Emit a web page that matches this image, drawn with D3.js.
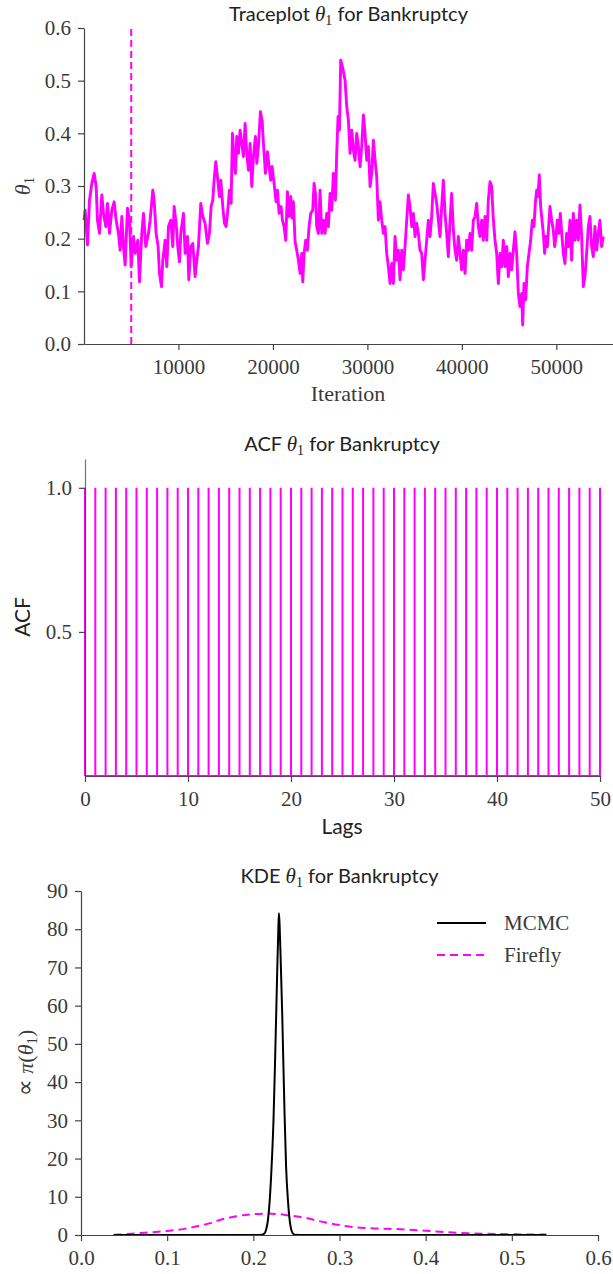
<!DOCTYPE html>
<html><head><meta charset="utf-8">
<script src="https://cdn.jsdelivr.net/npm/d3@7"></script>
<style>body{margin:0;background:#fff} svg{display:block}</style>
</head><body><svg id="c" width="613" height="1274"></svg>
<script>
// ---------- DATA ----------
const traceIter = [0,123,370,582,829,1076,1287,1428,1640,1887,2063,2310,2486,2698,2945,3192,3403,3650,3827,4003,4179,4356,4603,4814,4990,5238,5414,5696,5872,6119,6296,6542,6825,7001,7283,7424,7636,7847,7989,8200,8341,8588,8765,8941,9188,9399,9540,9752,9929,10105,10246,10528,10705,10951,11092,11304,11516,11762,11939,12115,12362,12574,12820,13067,13279,13455,13632,13773,13949,
14127,14339,14480,14692,14868,15044,15221,15397,15573,15714,15891,16032,16173,16349,16526,16702,16878,17055,17231,17407,17584,17760,17936,18148,18289,18465,18677,18853,18995,19206,19418,19594,19770,19912,20123,20335,20476,20652,20864,21005,21181,21358,21534,21710,21887,22028,22169,22345,22522,22698,22874,23051,23156,23297,23474,23650,23826,24003,24214,24356,24497,24638,24814,24990,25167,25343,25519,25696,25872,26049,26225,26401,26613,26754,26895,27036,27177,27353,
27636,27813,27989,28165,28342,28518,28694,28871,29047,29224,29400,29576,29753,29929,30105,30282,30458,30634,30811,30987,31163,31340,31516,31692,31869,32045,32221,32398,32574,32751,32927,33103,33280,33456,33632,33809,33985,34161,34338,34514,34690,34867,35043,35219,35396,35572,35748,35925,36101,36278,36454,36630,36807,36983,37159,37336,37512,37688,37865,38041,38217,38394,38570,38746,38923,39099,39275,39452,39628,39805,39981,40157,40334,40510,40686,40863,41039,41215,
41393,41570,41746,41922,42099,42275,42451,42628,42804,42980,43157,43333,43510,43686,43862,44039,44215,44391,44568,44744,44920,45097,45273,45449,45626,45802,45978,46155,46331,46437,46578,46754,46931,47107,47283,47460,47636,47777,47918,48059,48200,48342,48483,48624,48765,48906,49047,49188,49329,49505,49682,49823,49964,50105,50281,50422,50599,50740,50916,51093,51269,51445,51622,51798,51974,52151,52327,52503,52680,52856,53032,53209,53385,53562,53738,53914,54091,54267,54443,54620,54796,54972];
const traceTheta = [0.235,0.254,0.188,0.273,0.305,0.324,0.299,0.235,0.21,0.283,0.248,0.223,0.267,0.21,0.254,0.27,0.235,0.21,0.178,0.242,0.185,0.15,0.258,0.235,0.147,0.204,0.172,0.197,0.118,0.21,0.248,0.185,0.21,0.235,0.292,0.273,0.21,0.185,0.134,0.109,0.159,0.197,0.147,0.223,0.235,0.185,0.261,0.229,0.185,0.156,0.21,0.248,0.172,0.204,0.122,0.185,0.191,0.128,0.159,0.185,0.267,0.242,0.229,0.191,0.21,0.261,0.273,0.311,0.346,
0.318,0.28,0.311,0.261,0.229,0.223,0.254,0.292,0.267,0.4,0.349,0.324,0.394,0.362,0.406,0.381,0.356,0.419,0.362,0.33,0.381,0.299,0.356,0.394,0.343,0.375,0.441,0.425,0.381,0.324,0.365,0.337,0.311,0.337,0.305,0.27,0.292,0.248,0.261,0.235,0.223,0.197,0.289,0.242,0.28,0.239,0.27,0.194,0.178,0.159,0.134,0.172,0.118,0.172,0.197,0.178,0.223,0.248,0.254,0.305,0.286,0.223,0.21,0.292,0.21,0.235,0.21,0.248,0.223,0.286,0.254,0.324,0.273,0.362,0.432,0.406,0.539,0.527,
0.501,0.451,0.425,0.362,0.406,0.368,0.349,0.4,0.375,0.337,0.375,0.435,0.4,0.349,0.375,0.299,0.324,0.387,0.349,0.318,0.235,0.27,0.235,0.21,0.223,0.172,0.147,0.115,0.153,0.115,0.204,0.159,0.178,0.122,0.178,0.141,0.185,0.235,0.283,0.261,0.223,0.248,0.204,0.229,0.21,0.178,0.172,0.122,0.159,0.197,0.235,0.204,0.242,0.305,0.286,0.267,0.235,0.204,0.261,0.311,0.248,0.21,0.166,0.235,0.286,0.216,0.178,0.159,0.204,0.172,0.141,0.178,0.134,0.197,0.178,0.21,0.178,0.235,
0.242,0.267,0.223,0.204,0.235,0.197,0.242,0.197,0.273,0.308,0.299,0.235,0.197,0.172,0.115,0.172,0.147,0.197,0.147,0.185,0.128,0.172,0.141,0.178,0.213,0.172,0.096,0.071,0.096,0.036,0.115,0.084,0.147,0.172,0.197,0.235,0.223,0.267,0.292,0.28,0.321,0.261,0.235,0.21,0.172,0.204,0.185,0.223,0.261,0.235,0.216,0.185,0.204,0.235,0.21,0.248,0.204,0.172,0.153,0.21,0.185,0.235,0.159,0.248,0.197,0.235,0.197,0.264,0.204,0.109,0.128,0.172,0.223,0.242,0.185,0.166,0.223,0.178,0.21,0.235,0.185,0.204];
const burnIn = 5000;
const traceXTicks = [10000,20000,30000,40000,50000];
const traceYTicks = [0.0,0.1,0.2,0.3,0.4,0.5,0.6];

const acfLags = [0,1,2,3,4,5,6,7,8,9,10,11,12,13,14,15,16,17,18,19,20,21,22,23,24,25,26,27,28,29,30,31,32,33,34,35,36,37,38,39,40,41,42,43,44,45,46,47,48,49,50];
const acfValues = [1,1,1,1,1,1,1,1,1,1,1,1,1,1,1,1,1,1,1,1,1,1,1,1,1,1,1,1,1,1,1,1,1,1,1,1,1,1,1,1,1,1,1,1,1,1,1,1,1,1,1];
const acfXTicks = [0,10,20,30,40,50];
const acfYTicks = [0.5,1.0];

const kdeMcmcX = [0.038,0.20,0.210,0.2125,0.215,0.217,0.219,0.221,0.2234,0.2255,0.2275,0.229,0.2297,0.2305,0.232,0.2335,0.2362,0.238,0.2405,0.243,0.2455,0.248,0.26,0.54];
const kdeMcmcY = [0,0,0.05,0.3,1.5,4,9,17,30,48,67,80,84.2,81,70,58,32,18,8,2.5,0.5,0.05,0,0];
const kdeFireflyX = [0.038,0.05,0.07,0.10,0.12,0.133,0.15,0.164,0.18,0.20,0.215,0.23,0.245,0.26,0.275,0.30,0.315,0.332,0.36,0.38,0.40,0.425,0.45,0.48,0.505,0.54];
const kdeFireflyY = [0.05,0.2,0.55,1.05,1.6,2.2,3.1,4.1,4.9,5.45,5.6,5.45,5.0,4.5,3.7,2.6,2.1,1.8,1.6,1.4,1.1,0.75,0.45,0.28,0.17,0.1];
const kdeXTicks = [0.0,0.1,0.2,0.3,0.4,0.5,0.6];
const kdeYTicks = [0,10,20,30,40,50,60,70,80,90];
const legendLabels = ["MCMC","Firefly"];

// ---------- STYLE ----------
const MAG = "#ff00ff";
const SERIF = "'Liberation Serif','DejaVu Serif',serif";
const SANS = "Lato,'DejaVu Sans',sans-serif";
const TXT = "#3a3a3a";
const SPINE = "#444";
const svg = d3.select("#c");

function styleAxis(g){
  g.selectAll(".domain").attr("stroke",SPINE).attr("stroke-width",1.2);
  g.selectAll(".tick line").attr("stroke",SPINE).attr("stroke-width",1.2);
  g.selectAll(".tick text").attr("fill",TXT).style("font-family",SERIF).style("font-size","21px");
}
function title(x,y,pre){
  const t = svg.append("text").attr("x",x).attr("y",y).attr("text-anchor","middle")
    .attr("fill","#222").style("font-family",SANS).style("font-size","20px");
  t.append("tspan").text(pre+" ");
  t.append("tspan").style("font-family",SERIF).style("font-style","italic").style("font-size","21px").text("θ");
  t.append("tspan").style("font-family",SERIF).style("font-size","14px").attr("dy",4).text("1");
  t.append("tspan").attr("dy",-4).text(" for Bankruptcy");
}

// ---------- PANEL 1: TRACE ----------
{
  const x = d3.scaleLinear().domain([0,56000]).range([84,613]);
  const y = d3.scaleLinear().domain([0,0.6]).range([344,28]);
  const pts = traceIter.map((d,i)=>[d,traceTheta[i]]);
  svg.append("path").datum(pts)
    .attr("fill","none").attr("stroke",MAG).attr("stroke-width",2.9).attr("stroke-linejoin","round")
    .attr("d",d3.line().x(d=>x(d[0])).y(d=>y(d[1])));
  svg.append("line").attr("x1",x(burnIn)).attr("x2",x(burnIn)).attr("y1",y(0)).attr("y2",y(0.6))
    .attr("stroke",MAG).attr("stroke-width",2).attr("stroke-dasharray","7,4");
  const gx = svg.append("g").attr("transform",`translate(0,${y(0)})`)
    .call(d3.axisBottom(x).tickValues(traceXTicks).tickFormat(d3.format("d")).tickSize(6).tickSizeOuter(0).tickPadding(9));
  styleAxis(gx);
  const gy = svg.append("g").attr("transform",`translate(${x(0)},0)`)
    .call(d3.axisLeft(y).tickValues(traceYTicks).tickFormat(d3.format(".1f")).tickSize(6).tickSizeOuter(0).tickPadding(7));
  styleAxis(gy);
  title(348.5,21,"Traceplot");
  svg.append("text").attr("x",348).attr("y",401).attr("text-anchor","middle").attr("fill",TXT)
    .style("font-family",SERIF).style("font-size","22px").text("Iteration");
  const yl = svg.append("text").attr("transform","translate(30,186) rotate(-90)").attr("text-anchor","middle")
    .attr("fill",TXT).style("font-family",SERIF).style("font-size","22px");
  yl.append("tspan").style("font-style","italic").text("θ");
  yl.append("tspan").style("font-size","15px").attr("dy",4).text("1");
}

// ---------- PANEL 2: ACF ----------
{
  const x = d3.scaleLinear().domain([0,50]).range([85,600]);
  const y = d3.scaleLinear().domain([0,1.1]).range([776,459]);
  svg.append("g").selectAll("line").data(acfLags).join("line")
    .attr("x1",d=>x(d)).attr("x2",d=>x(d)).attr("y1",y(0)).attr("y2",(d,i)=>y(acfValues[i]))
    .attr("stroke",MAG).attr("stroke-width",2);
  svg.append("line").attr("x1",x(0)).attr("x2",x(50)).attr("y1",y(0)).attr("y2",y(0))
    .attr("stroke",MAG).attr("stroke-width",2);
  const gx = svg.append("g").attr("transform",`translate(0,${y(0)})`)
    .call(d3.axisBottom(x).tickValues(acfXTicks).tickFormat(d3.format("d")).tickSize(6).tickSizeOuter(0).tickPadding(9));
  styleAxis(gx); gx.select(".domain").attr("opacity",0.75);
  const gy = svg.append("g").attr("transform",`translate(${x(0)},0)`)
    .call(d3.axisLeft(y).tickValues(acfYTicks).tickFormat(d3.format(".1f")).tickSize(6).tickSizeOuter(0).tickPadding(7));
  styleAxis(gy); gy.select(".domain").attr("opacity",0.75);
  title(342,451,"ACF");
  svg.append("text").attr("x",342).attr("y",834).attr("text-anchor","middle").attr("fill","#222")
    .style("font-family",SANS).style("font-size","21px").text("Lags");
  svg.append("text").attr("transform","translate(30,617) rotate(-90)").attr("text-anchor","middle")
    .attr("fill","#222").style("font-family",SANS).style("font-size","21px").text("ACF");
}

// ---------- PANEL 3: KDE ----------
{
  const x = d3.scaleLinear().domain([0,0.6]).range([81,598]);
  const y = d3.scaleLinear().domain([0,90]).range([1235,891]);
  const line = d3.line().x(d=>x(d[0])).y(d=>y(d[1])).curve(d3.curveMonotoneX);
  svg.append("path").datum(kdeFireflyX.map((d,i)=>[d,kdeFireflyY[i]]))
    .attr("fill","none").attr("stroke",MAG).attr("stroke-width",2).attr("stroke-dasharray","8,5").attr("d",line);
  svg.append("path").datum(kdeMcmcX.map((d,i)=>[d,kdeMcmcY[i]]))
    .attr("fill","none").attr("stroke","#000").attr("stroke-width",2).attr("d",line);
  const gx = svg.append("g").attr("transform",`translate(0,${y(0)})`)
    .call(d3.axisBottom(x).tickValues(kdeXTicks).tickFormat(d3.format(".1f")).tickSize(6).tickSizeOuter(0).tickPadding(9));
  styleAxis(gx);
  const gy = svg.append("g").attr("transform",`translate(${x(0)},0)`)
    .call(d3.axisLeft(y).tickValues(kdeYTicks).tickFormat(d3.format("d")).tickSize(6).tickSizeOuter(0).tickPadding(7));
  styleAxis(gy);
  title(339.5,883,"KDE");
  const yl = svg.append("text").attr("transform","translate(33,1063) rotate(-90)").attr("text-anchor","middle")
    .attr("fill",TXT).style("font-family",SERIF).style("font-size","22px");
  yl.append("tspan").style("font-family","'DejaVu Sans',sans-serif").style("font-size","24px").text("∝");
  yl.append("tspan").text(" ");
  yl.append("tspan").style("font-style","italic").text("π");
  yl.append("tspan").text("(");
  yl.append("tspan").style("font-style","italic").text("θ");
  yl.append("tspan").style("font-size","15px").attr("dy",4).text("1");
  yl.append("tspan").attr("dy",-4).text(")");
  // legend
  const ly = [923,955];
  svg.append("line").attr("x1",437).attr("x2",486).attr("y1",ly[0]).attr("y2",ly[0]).attr("stroke","#000").attr("stroke-width",2);
  svg.append("line").attr("x1",437).attr("x2",486).attr("y1",ly[1]).attr("y2",ly[1]).attr("stroke",MAG).attr("stroke-width",2).attr("stroke-dasharray","8,5");
  legendLabels.forEach((l,i)=>{
    svg.append("text").attr("x",504).attr("y",ly[i]+7).attr("fill",TXT)
      .style("font-family",SERIF).style("font-size","21px").text(l);
  });
}
</script></body></html>
